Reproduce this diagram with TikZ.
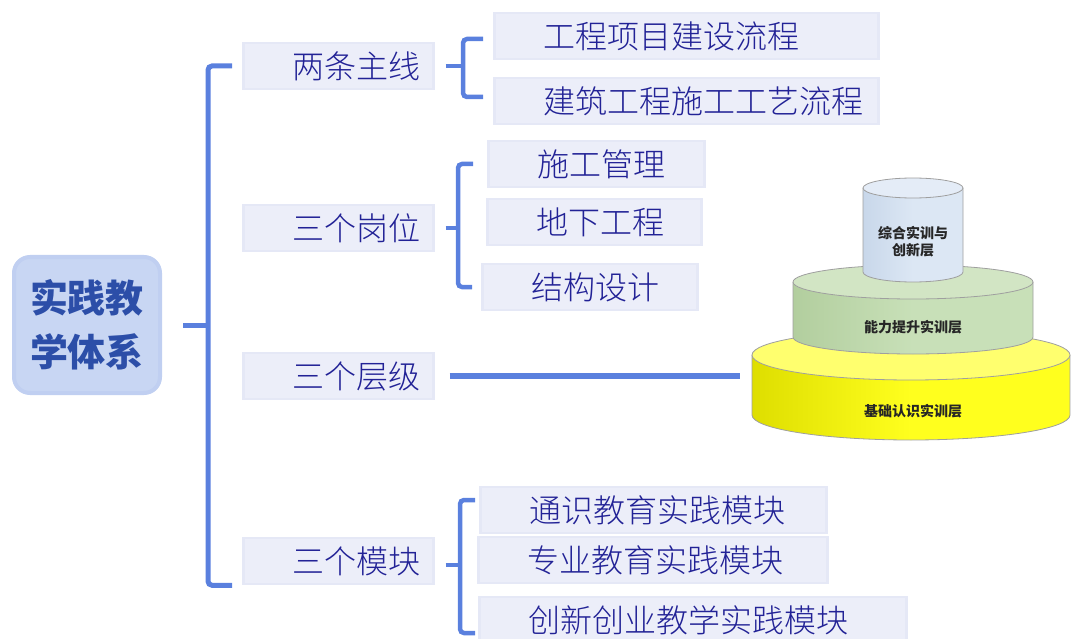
\documentclass[tikz,border=0pt]{standalone}
\usepackage{fontspec}
\setmainfont{Noto Sans CJK SC}
\newfontfamily\boxfont{Noto Sans CJK SC Light}
\definecolor{linkblue}{RGB}{90,128,222}
\definecolor{boxfill}{RGB}{236,238,249}
\definecolor{boxedge}{RGB}{229,232,246}
\definecolor{boxtext}{RGB}{34,34,150}
\definecolor{rootfill}{RGB}{200,214,243}
\definecolor{rootedge}{RGB}{192,207,241}
\definecolor{roottext}{RGB}{44,78,168}
\definecolor{ydark}{RGB}{222,222,0}
\definecolor{ylight}{RGB}{255,255,30}
\definecolor{ytopc}{RGB}{255,255,110}
\definecolor{gdark}{RGB}{178,206,158}
\definecolor{glight}{RGB}{200,224,184}
\definecolor{gtopc}{RGB}{210,229,196}
\definecolor{bdark}{RGB}{200,215,234}
\definecolor{blight}{RGB}{220,231,244}
\definecolor{btopc}{RGB}{228,236,247}
\newcommand\drawtier[6]{%
  \path[#6body] (#1-#4,#2) -- (#1-#4,#3) arc[start angle=180,end angle=360,x radius=#4pt,y radius=#5pt] -- (#1+#4,#2) -- cycle;
  \draw[tieredge] (#1-#4,#2) -- (#1-#4,#3) arc[start angle=180,end angle=360,x radius=#4pt,y radius=#5pt] -- (#1+#4,#2);
  \filldraw[#6top,tieredge] (#1,#2) ellipse[x radius=#4pt,y radius=#5pt];}
\begin{document}
\begin{tikzpicture}[x=1pt,y=-1pt,
  lbox/.style={fill=boxfill,draw=boxedge,line width=2.5pt,text=boxtext,anchor=west,
    font=\boxfont\fontsize{32}{36}\selectfont,minimum height=46pt,text width=#1,align=left,
    inner xsep=0pt,inner ysep=0pt,execute at begin node=\hspace*{49pt}},
  brace/.style={draw=linkblue,line width=5pt,rounded corners=4pt},
  tieredge/.style={draw=gray!75,line width=0.8pt},
  tiertext/.style={font=\bfseries\fontsize{14}{17}\selectfont,text=black!85,align=center},
  ybody/.style={left color=ydark,right color=ylight,middle color=ylight},ytop/.style={fill=ytopc},
  gbody/.style={left color=gdark,right color=glight,middle color=glight},gtop/.style={fill=gtopc},
  bbody/.style={left color=bdark,right color=blight,middle color=blight},btop/.style={fill=btopc}]
\useasboundingbox (0,0) rectangle (1071,639);
\node[fill=rootfill,draw=rootedge,line width=4pt,rounded corners=16pt,minimum width=146pt,minimum height=136pt,
  align=center,text=roottext,font=\bfseries\fontsize{38}{54}\selectfont] (root) at (87,325) {实践教\\学体系};
\node[lbox=190pt] (two) at (242,66) {两条主线};
\node[lbox=190pt] (post) at (242,228) {三个岗位};
\node[lbox=190pt] (level) at (242,376) {三个层级};
\node[lbox=190pt] (module) at (242,561) {三个模块};
\node[lbox=384pt] (p1) at (493,36) {工程项目建设流程};
\node[lbox=384pt] (p2) at (493,101) {建筑工程施工工艺流程};
\node[lbox=216pt] (s1) at (487,164) {施工管理};
\node[lbox=214pt] (s2) at (486,222) {地下工程};
\node[lbox=215pt] (s3) at (481,287) {结构设计};
\node[lbox=346pt] (m1) at (479,510) {通识教育实践模块};
\node[lbox=349pt] (m2) at (477,560) {专业教育实践模块};
\node[lbox=427pt] (m3) at (478,620) {创新创业教学实践模块};
\coordinate (bm) at (208,325);
\draw[brace] ([xshift=-10pt]two.west) -| (bm) |- ([xshift=-10pt]module.south west);
\draw[brace] ([xshift=21pt]root.east) -- (bm);
\coordinate (b2) at (463,66);
\draw[brace,line width=4.5pt] ([xshift=-10pt,yshift=-3pt]p1.west) -| (b2) |- ([xshift=-10pt,yshift=4pt]p2.west);
\draw[brace,line width=4.5pt] ([xshift=11pt]two.east) -- (b2);
\coordinate (b3) at (458,228);
\draw[brace,line width=4.5pt] ([xshift=-14pt]s1.west) -| (b3) |- ([xshift=-9pt]s3.west);
\draw[brace,line width=4.5pt] ([xshift=11pt]post.east) -- (b3);
\coordinate (b4) at (460,565);
\draw[brace,line width=4.5pt] ([xshift=-4pt,yshift=10pt]m1.west) -| (b4) |- ([xshift=-3pt,yshift=-13pt]m3.west);
\draw[brace,line width=4.5pt] ([xshift=11pt,yshift=-4pt]module.east) -- (b4);
\drawtier{911}{355}{415}{159}{25}{y}
\drawtier{913}{282}{337}{120}{17}{g}
\drawtier{913}{188}{272}{50}{10}{b}
\coordinate (cylfoot) at (740,376);
\draw[brace,line width=6pt] ([xshift=15pt]level.east) -- (cylfoot);
\node[tiertext] (t3) at (913,242) {综合实训与\\创新层};
\node[tiertext] (t2) at (913,327) {能力提升实训层};
\node[tiertext] (t1) at (913,411) {基础认识实训层};
\end{tikzpicture}
\end{document}
